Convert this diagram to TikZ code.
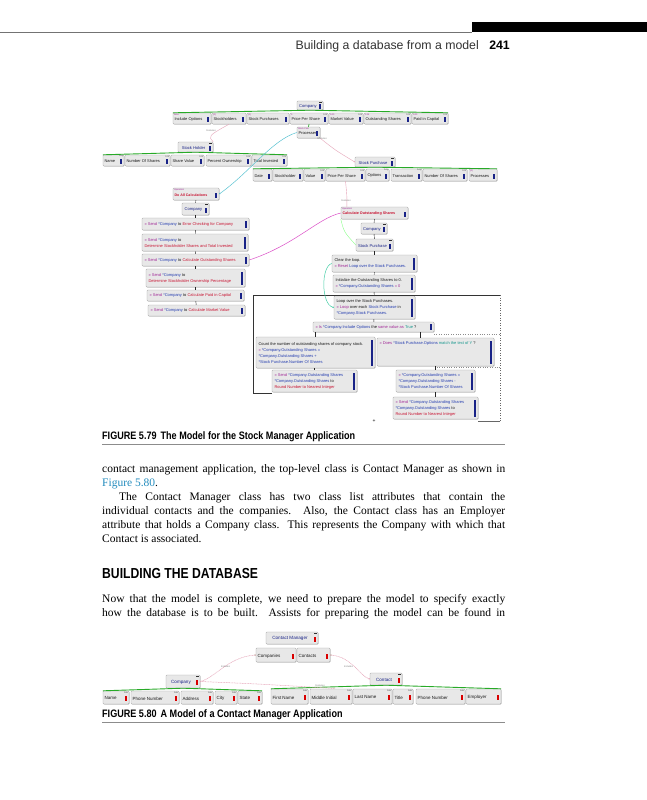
\documentclass[tikz,border=0pt]{standalone}
\usepackage{fontspec}
\setmainfont{Liberation Serif}
\newfontfamily\dgf{Liberation Sans}
\newfontfamily\capf[FakeStretch=0.84]{Liberation Sans}
\newfontfamily\hdf{Liberation Sans}
\usetikzlibrary{calc,shadows,arrows.meta}
\definecolor{navy}{RGB}{25,35,135}
\definecolor{vmag}{RGB}{160,40,150}
\definecolor{rref}{RGB}{35,60,175}
\definecolor{rop}{RGB}{200,20,50}
\definecolor{tealv}{RGB}{20,150,140}
\definecolor{grn}{RGB}{40,170,40}
\definecolor{cyanl}{RGB}{90,195,210}
\definecolor{magl}{RGB}{220,80,200}
\definecolor{pinkl}{RGB}{230,165,185}
\definecolor{figblue}{RGB}{35,140,190}
\colorlet{mkc}{navy}
\newcommand\tkw[1]{\textcolor{vmag}{#1}}
\newcommand\trf[1]{\textcolor{rref}{#1}}
\newcommand\tops[1]{\textcolor{rop}{#1}}
\newcommand\tvl[1]{\textcolor{tealv}{#1}}
\tikzset{
 abox/.style={draw=black!35,fill=black!9,rounded corners=0.8pt,inner sep=0pt,
   drop shadow={shadow xshift=0.5pt,shadow yshift=-0.5pt,fill=black!40,opacity=0.6}},
 atxt/.style={inner sep=0pt,font=\dgf\fontsize{4}{4.8}\selectfont,text=black!90},
 ctxt/.style={inner sep=0pt,font=\dgf\fontsize{4.1}{4.8}\selectfont,text=navy},
 ptxt/.style={inner sep=0pt,align=left,font=\dgf\fontsize{4}{6}\selectfont,text=black!90},
 atyp/.style={inner sep=0pt,font=\dgf\fontsize{2.3}{2.5}\selectfont,text=black!70},
 aval/.style={inner sep=0pt,font=\dgf\fontsize{2.3}{2.5}\selectfont,text=vmag},
 flab/.style={inner sep=0pt,font=\dgf\fontsize{2.4}{2.6}\selectfont,text=black!50},
 seq/.style={draw=black!85,line width=0.45pt},
 grnbar/.style={draw=grn,line width=0.9pt},
 pinkd/.style={draw=pinkl,line width=0.5pt,dash pattern=on 1pt off 0.6pt},
 body/.style={inner sep=0pt,anchor=base west,font=\fontsize{11.5}{14}\selectfont},
}
% attribute box: [opts]{name}{x1}{y1}{x2}{y2}{text}{type}{value}
\newcommand\abx[9][]{%
  \node[abox,#1,minimum width={#5-#3},minimum height={#6-#4}] (#2) at ({(#3+#5)/2},{(#4+#6)/2}) {};
  \node[atxt,anchor=west] (#2-t) at ($(#2.west)+(1.5,0.9)$) {#7};
  \node[atyp,anchor=north east] (#2-y) at ($(#2.north east)+(-0.8,0.4)$) {#8};
  \node[aval,anchor=north west] (#2-v) at ($(#2.north west)+(1,0.4)$) {#9};
  \fill[mkc] ($(#2.east)+(-3.8,-1.2)$) rectangle ++(1.9,4.8);
}
% class box
\newcommand\cbx[7][]{%
  \node[abox,#1,minimum width={#5-#3},minimum height={#6-#4}] (#2) at ({(#3+#5)/2},{(#4+#6)/2}) {};
  \node[ctxt] (#2-t) at ($(#2.center)+(-2,0.6)$) {#7};
  \fill[mkc] ($(#2.east)+(-3.8,-1.2)$) rectangle ++(1.9,4.8);
  \fill[black!80] ($(#2.north east)+(-4.5,1)$) rectangle ++(3,0.7);
}
% procedure box
\newcommand\pbx[7][]{%
  \node[abox,#1,minimum width={#5-#3},minimum height={#6-#4}] (#2) at ({(#3+#5)/2},{(#4+#6)/2}) {};
  \node[ptxt,anchor=west] (#2-t) at ($(#2.west)+(2.5,0.3)$) {#7};
  \pgfmathsetmacro\mkh{max(#6-#4-5,5.5)}
  \fill[mkc] ($(#2.east)+(-4.2,-\mkh/2)$) rectangle ++(2.4,\mkh);
}
\begin{document}
\begin{tikzpicture}[x=1pt,y=-1pt]
\fill[white] (0,0) rectangle (647,800);
\useasboundingbox (0,0) rectangle (647,800);
% ---------- running head
\fill[black] (472,22) rectangle (647,32);
\draw[black!55,line width=0.7pt] (0,32) -- (472,32);
\node[inner sep=0pt,anchor=base east,font=\hdf\fontsize{12.3}{14}\selectfont,text=black!80] (hdr) at (479,49.5) {Building a database from a model};
\node[inner sep=0pt,anchor=base east,font=\hdf\bfseries\fontsize{12.3}{14}\selectfont] (pgn) at (510,49.5) {241};

% ================= FIGURE 5.79
\cbx{co}{297}{101}{323}{110}{Company}
\abx{ci1}{173}{113}{211}{124}{Include Options}{}{false}
\abx{ci2}{212}{113}{246}{124}{Stockholders}{}{(0)}
\abx{ci3}{247}{113}{289}{124}{Stock Purchases}{}{(0)}
\abx{ci4}{290}{113}{328}{124}{Price Per Share}{123}{0}
\abx{ci5}{329}{113}{363}{124}{Market Value}{123}{0.00}
\abx{ci6}{364}{113}{411}{124}{Outstanding Shares}{123}{0.14}
\abx{ci7}{412}{113}{448}{124}{Paid in Capital}{123}{0.00}
\abx{prc}{297}{127}{320}{138}{Processes}{}{Stock Calc}
\draw[grnbar] (ci1.north west) -- (co.south) -- (ci7.north east);
\draw[draw=grn,line width=0.6pt] (ci4.south) -- (prc.north);

\cbx{sh}{178}{142}{213}{152}{Stock Holder}
\abx{sh1}{103}{155}{124}{166}{Name}{Any}{}
\abx{sh2}{125}{155}{170}{166}{Number Of Shares}{123}{}
\abx{sh3}{171}{155}{204}{166}{Share Value}{123}{}
\abx{sh4}{206}{155}{251}{166}{Percent Ownership}{123}{}
\abx{sh5}{252}{155}{287}{166}{Total Invested}{123}{}
\draw[grnbar] (sh1.north west) -- (sh.south) -- (sh5.north east);

\cbx{sp}{355}{157}{395}{167}{Stock Purchase}
\abx{sp1}{253}{169}{272}{181}{Date}{}{}
\abx{sp2}{273}{169}{303}{181}{Stockholder}{}{}
\abx{sp3}{304}{169}{325}{181}{Value}{123}{}
\abx{sp4}{326}{169}{365}{181}{Price Per Share}{123}{}
\abx{sp5}{366}{169}{389}{181}{Options}{Any}{}
\abx{sp6}{391}{169}{422}{181}{Transaction}{Any}{}
\abx{sp7}{423}{169}{467}{181}{Number Of Shares}{123}{}
\abx{sp8}{469}{169}{497}{181}{Processes}{}{(0)}
\draw[grnbar] (sp1.north west) -- (sp.south) -- (sp8.north east);

% left column
\abx{dac}{173}{188}{219}{200}{\tops{\bfseries\fontsize{3.6}{4}\selectfont Do All Calculations}}{}{Operation}
\cbx{lcmp}{182}{203}{209}{215}{Company}
\pbx{p1}{142}{218}{249}{230}{\tkw{» Send} \trf{*Company} to \tops{Error Checking for Company}}
\pbx{p2}{142}{234}{248}{251}{\tkw{» Send} \trf{*Company} to\\\tops{Determine Stockholder Shares and Total Invested}}
\pbx{p3}{142}{254}{249}{266}{\tkw{» Send} \trf{*Company} to \tops{Calculate Outstanding Shares}}
\pbx{p4}{146}{269}{245}{287}{\tkw{» Send} \trf{*Company} to\\\tops{Determine Stockholder Ownership Percentage}}
\pbx{p5}{147}{290}{244}{301}{\tkw{» Send} \trf{*Company} to \tops{Calculate Paid in Capital}}
\pbx{p6}{148}{305}{245}{316}{\tkw{» Send} \trf{*Company} to \tops{Calculate Market Value}}

% right column
\abx{cos}{341}{207}{408}{219}{\tops{\bfseries\fontsize{3.7}{4}\selectfont Calculate Outstanding Shares}}{}{Operation}
\cbx{rcmp}{361}{223}{387}{234}{Company}
\cbx{rsp}{356}{239}{393}{251}{Stock Purchase}
\pbx{clr}{332}{255}{417}{272}{Clear the loop.\\\tkw{» Reset} \trf{Loop over the Stock Purchases.}}
\pbx{ini}{333}{275}{415}{292}{Initialize the Outstanding Shares to 0.\\\tkw{»} \trf{*Company.Outstanding Shares} \tkw{= 0}}
\pbx{lop}{334}{296}{415}{319}{Loop over the Stock Purchases.\\\tkw{» Loop} over each \trf{Stock Purchase} in\\\trf{*Company.Stock Purchases.}}
\pbx{isb}{313}{322}{434}{332}{\tkw{» Is} \trf{*Company.Include Options} the \tkw{same value as} \tvl{True} ?}
\pbx{cnt}{256}{337}{375}{368}{Count the number of outstanding shares of company stock.\\\tkw{»} \trf{*Company.Outstanding Shares =}\\\trf{*Company.Outstanding Shares +}\\\trf{*Stock Purchase.Number Of Shares}}
\pbx{dos}{377}{338}{494}{366}{\tkw{» Does} \trf{*Stock Purchase.Options} \tvl{match the text of} \tvl{Y} ?\\~\\~\\~}
\pbx{sd1}{272}{370}{357}{392}{\tkw{» Send} \trf{*Company.Outstanding Shares}\\\trf{*Company.Outstanding Shares} to\\\tops{Round Number to Nearest Integer}}
\pbx{mns}{396}{370}{475}{392}{\tkw{»} \trf{*Company.Outstanding Shares =}\\\trf{*Company.Outstanding Shares -}\\\trf{*Stock Purchase.Number Of Shares}}
\pbx{sd2}{393}{397}{478}{419}{\tkw{» Send} \trf{*Company.Outstanding Shares}\\\trf{*Company.Outstanding Shares} to\\\tops{Round Number to Nearest Integer}}

% sequence connectors
\foreach \a/\b in {dac/lcmp,lcmp/p1,p1/p2,p2/p3,p3/p4,p4/p5,p5/p6,cos/rcmp,rcmp/rsp,rsp/clr,clr/ini,ini/lop,lop/isb,dos/mns,mns/sd2}
  \draw[seq] (\a) -- (\b);
\draw[seq] (isb.south -| cnt.north) -- (cnt.north);
\draw[seq] ($(isb.south east)+(-14,0)$) -- ++(0,6);
\draw[seq] (cnt.south -| sd1.north) -- (sd1.north);

% loop frame
\draw[black!80,line width=0.5pt] (272,393) -- (253,393) -- (253,295) -- (500,295);
\draw[black!60,line width=0.5pt,dotted] (500,295) -- (500,421);
\draw[black!60,line width=0.5pt] (478,421) -- (500,421);
\draw[black!45,line width=0.4pt,dotted] (434,334) -- (500,334);
\draw[black!45,line width=0.4pt,dotted] (437,367) -- (500,367);
\node[inner sep=0pt,font=\dgf\fontsize{5}{5}\selectfont] (plus) at (374,421.5) {+};

% relation connectors
\draw[cyanl,line width=0.5pt,{Circle[length=1.4pt]}-] (dac.east) .. controls (250,172) and (272,140) .. (prc.west);
\draw[magl,line width=0.5pt] (p3.east) .. controls (295,245) and (318,218) .. (cos.west);
\draw[cyanl!80!green,line width=0.5pt,-{Circle[length=1.4pt]}] (clr.west) .. controls (321,266) and (321,304) .. (lop.west);
\draw[pinkl,line width=0.4pt] (ci2.south) .. controls (208,136) .. (sh.north east);
\draw[pinkl,line width=0.4pt,-{Circle[length=1.2pt]}] (prc.south east) .. controls (335,150) .. (sp.west);
\draw[pinkl,line width=0.4pt] (sp4.south) .. controls (347,196) .. ($(cos.north west)+(6,0)$);
\draw[green!45,line width=0.4pt] (cos.south west) .. controls (344,232) .. (rsp.west);
\node[flab] (f1) at (211,130.5) {Features};
\node[flab] (f2) at (322,138.5) {Features};
\node[flab] (f3) at (346,201) {Features};

% caption 5.79
\node[inner sep=0pt,anchor=base west,font=\capf\bfseries\fontsize{10.8}{12}\selectfont] (cap1) at (102,439.5) {FIGURE 5.79\hspace{4pt}The Model for the Stock Manager Application};
\draw[black!45,line width=0.6pt] (102,444.5) -- (505,444.5);

% ================= body text
\node[body] (l1) at (102,472.5) {\makebox[403pt][s]{contact management application, the top-level class is Contact Manager as shown in}};
\node[body] (l2) at (102,486.5) {\textcolor{figblue}{Figure 5.80}.};
\node[body] (l3) at (119,500.5) {\makebox[386pt][s]{The Contact Manager class has two class list attributes that contain the}};
\node[body] (l4) at (102,514.5) {\makebox[403pt][s]{individual contacts and the companies. Also, the Contact class has an Employer}};
\node[body] (l5) at (102,528.5) {\makebox[403pt][s]{attribute that holds a Company class. This represents the Company with which that}};
\node[body] (l6) at (102,542.5) {Contact is associated.};
\node[inner sep=0pt,anchor=base west,font=\capf\bfseries\fontsize{14.5}{16}\selectfont] (hd) at (102,578) {BUILDING THE DATABASE};
\node[body] (l7) at (102,602.5) {\makebox[403pt][s]{Now that the model is complete, we need to prepare the model to specify exactly}};
\node[body] (l8) at (102,616.5) {\makebox[403pt][s]{how the database is to be built. Assists for preparing the model can be found in}};

% ================= FIGURE 5.80
\colorlet{mkc}{red!85!black}
\tikzset{atxt/.append style={font=\dgf\fontsize{4.5}{5}\selectfont},
         ctxt/.append style={font=\dgf\fontsize{4.6}{5}\selectfont}}
\cbx{cm}{266}{632}{318}{644}{Contact Manager}
\abx{cms}{256}{648}{296}{662}{Companies}{}{}
\abx{cmc}{297}{648}{330}{662}{Contacts}{}{}
\cbx{kco}{166}{675}{200}{688}{Company}
\cbx{kct}{370}{673}{402}{685}{Contact}
\abx{ka1}{103}{691}{129}{704}{Name}{Abc}{}
\abx{ka2}{131}{691}{179}{704}{Phone Number}{Abc}{}
\abx{ka3}{181}{691}{213}{704}{Address}{Abc}{}
\abx{ka4}{215}{691}{237}{704}{City}{Abc}{}
\abx{ka5}{238}{691}{262}{704}{State}{Abc}{}
\abx{kb1}{271}{689}{308}{704}{First Name}{Abc}{}
\abx{kb2}{310}{689}{352}{704}{Middle Initial}{Abc}{}
\abx{kb3}{353}{689}{392}{704}{Last Name}{Abc}{}
\abx{kb4}{393}{689}{413}{704}{Title}{Abc}{}
\abx{kb5}{416}{689}{465}{704}{Phone Number}{Abc}{}
\abx{kb6}{466}{689}{501}{704}{Employer}{}{}
\draw[grnbar] (ka1.north west) -- (kco.south) -- (ka5.north east);
\draw[grnbar] (kb1.north west) -- (kct.south) -- (kb6.north east);
\draw[pinkd,{Circle[length=1.4pt,fill=grn]}-] (cms.west) .. controls (228,657) and (215,678) .. (kco.east);
\draw[pinkd,{Circle[length=1.4pt,fill=grn]}-{Circle[length=1.3pt]}] (cmc.east) .. controls (352,657) and (360,676) .. (kct.west);
\coordinate (fe) at (335,688.5);
\draw[pinkd] (kco.east) .. controls (260,684) .. (fe);
\node[flab] (g1) at (225.5,667) {Includes};
\node[flab] (g2) at (348.5,667) {Includes};
\node[flab] (g3) at (320,686) {Features};

% caption 5.80
\node[inner sep=0pt,anchor=base west,font=\capf\bfseries\fontsize{10.8}{12}\selectfont] (cap2) at (102,717) {FIGURE 5.80\hspace{4pt}A Model of a Contact Manager Application};
\draw[black!45,line width=0.6pt] (102,722.5) -- (505,722.5);
\end{tikzpicture}
\end{document}
